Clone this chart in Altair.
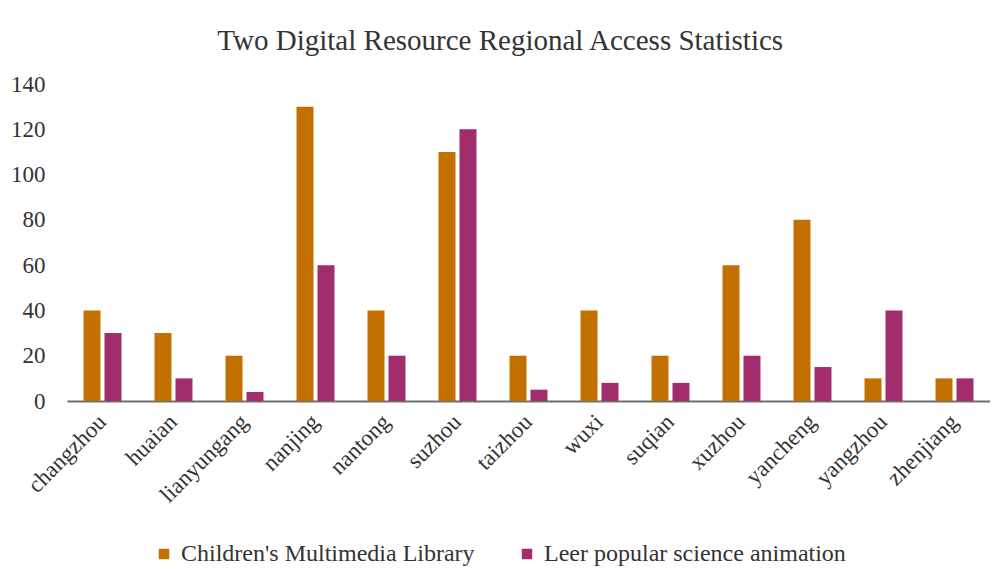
import altair as alt
import pandas as pd

cities = ["changzhou", "huaian", "lianyungang", "nanjing", "nantong", "suzhou",
          "taizhou", "wuxi", "suqian", "xuzhou", "yancheng", "yangzhou", "zhenjiang"]
children = [40, 30, 20, 130, 40, 110, 20, 40, 20, 60, 80, 10, 10]
leer = [30, 10, 4, 60, 20, 120, 5, 8, 8, 20, 15, 40, 10]
series = ["Children's Multimedia Library", "Leer popular science animation"]
colors = ["#C27100", "#A22D6D"]

rows = []
for i, c in enumerate(cities):
    rows.append({"city": c, "series": series[0], "value": children[i]})
    rows.append({"city": c, "series": series[1], "value": leer[i]})
df = pd.DataFrame(rows)

font = "Liberation Serif"

chart = alt.Chart(df).mark_bar().encode(
    x=alt.X("city:N", sort=cities, title=None,
            scale=alt.Scale(paddingInner=0.465, paddingOuter=0.2325),
            axis=alt.Axis(labelAngle=-45, labelFontSize=23, labelFont=font,
                          labelColor="#333333", ticks=False, domainColor="#6f6f6f",
                          domainWidth=2, labelPadding=17, labelAlign="right",
                          labelBaseline="middle")),
    xOffset=alt.XOffset("series:N", sort=series, scale=alt.Scale(paddingInner=0.19)),
    y=alt.Y("value:Q", title=None,
            scale=alt.Scale(domain=[0, 140]),
            axis=alt.Axis(values=[0, 20, 40, 60, 80, 100, 120, 140], grid=False,
                          domain=False, ticks=False, labelFontSize=23, labelFont=font,
                          labelColor="#333333", labelPadding=22)),
    color=alt.Color("series:N", sort=series, title=None,
                    scale=alt.Scale(domain=series, range=colors),
                    legend=alt.Legend(orient="none", legendX=85, legendY=458,
                                      direction="horizontal",
                                      symbolType="square", symbolSize=110,
                                      labelFontSize=24, labelFont=font, labelLimit=500,
                                      labelColor="#333333", columnPadding=40,
                                      labelOffset=5, symbolStrokeWidth=0)),
).properties(
    width=923, height=317,
    title=alt.TitleParams("Two Digital Resource Regional Access Statistics",
                          font=font, fontSize=29, fontWeight="normal",
                          color="#333333", offset=17, frame="bounds"),
    padding={"left": 2, "top": 19, "right": 0, "bottom": 0},
).configure_view(stroke=None)

chart.save("out.html", embed_options={"renderer": "svg", "actions": False})
